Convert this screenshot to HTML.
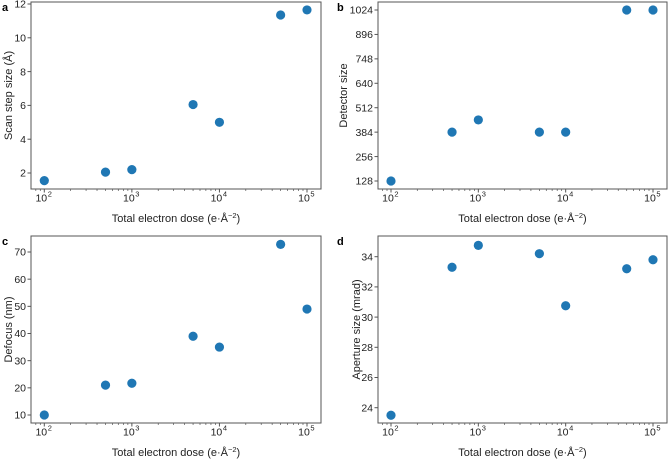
<!DOCTYPE html>
<html><head><meta charset="utf-8"><style>
html,body{margin:0;padding:0;background:#fff;}
svg{display:block;font-family:"Liberation Sans",Arial,sans-serif;}
</style></head><body>
<svg id="s" width="669" height="460" viewBox="0 0 669 460"></svg>
<script>
const doses = [100, 500, 1000, 5000, 10000, 50000, 100000];
const scanStep = [1.55, 2.05, 2.2, 6.05, 5.0, 11.35, 11.65];
const detectorSize = [128, 384, 448, 384, 384, 1024, 1024];
const defocus = [10, 21, 21.7, 39, 35, 72.8, 49];
const aperture = [23.5, 33.3, 34.75, 34.2, 30.75, 33.2, 33.8];
const ticksA = [2, 4, 6, 8, 10, 12];
const ticksB = [128, 256, 384, 512, 640, 768, 896, 1024];
const tickLabelsB = ["128", "256", "384", "512", "640", "748", "896", "1024"];
const ticksC = [10, 20, 30, 40, 50, 60, 70];
const ticksD = [24, 26, 28, 30, 32, 34];
const xMajor = [2, 3, 4, 5];

const NS = "http://www.w3.org/2000/svg";
const svg = document.getElementById("s");
function mk(tag, attrs, parent) {
  const e = document.createElementNS(NS, tag);
  for (const k in attrs) e.setAttribute(k, attrs[k]);
  (parent || svg).appendChild(e);
  return e;
}

const panels = [
  {id:"a", L:31, R:321, T:2, B:189, x0:44.3, x1:307, v0:2, p0:173, v1:12, p1:4, data:scanStep, ticks:ticksA, labels:null, title:"Scan step size (Å)", ylx:9, lx:2},
  {id:"b", L:378, R:667, T:2, B:189, x0:391, x1:653, v0:128, p0:181, v1:1024, p1:10, data:detectorSize, ticks:ticksB, labels:tickLabelsB, title:"Detector size", ylx:344, lx:337},
  {id:"c", L:31, R:321, T:236, B:423, x0:44.3, x1:307, v0:10, p0:415, v1:70, p1:252, data:defocus, ticks:ticksC, labels:null, title:"Defocus (nm)", ylx:9, lx:2},
  {id:"d", L:378, R:667, T:236, B:423, x0:391, x1:653, v0:24, p0:407.7, v1:34, p1:256.7, data:aperture, ticks:ticksD, labels:null, title:"Aperture size (mrad)", ylx:357, lx:337}
];

panels.forEach(p => {
  const g = mk("g", {});
  
  
  const xs = v => p.x0 + (Math.log10(v) - 2) / 3 * (p.x1 - p.x0);
  const ys = v => p.p0 + (v - p.v0) / (p.v1 - p.v0) * (p.p1 - p.p0);
  const fr = mk("rect", {x:p.L, y:p.T, width:p.R - p.L, height:p.B - p.T, fill:"none", stroke:"#555", "stroke-width":1}, g);
  
  
  const lt = mk("text", {x:p.lx, y:p.T + 9, "font-size":11, "font-weight":"bold", fill:"#000"}, g);
  lt.textContent = p.id;
  
  
  xMajor.forEach(e => {
    const x = xs(Math.pow(10, e));
    if (x < p.L || x > p.R) return;
    mk("line", {x1:x, x2:x, y1:p.B, y2:p.B + 3.5, stroke:"#555"}, g);
    const t = mk("text", {x:x - 3, y:p.B + 12.5, "font-size":10.5, "text-anchor":"middle", fill:"#222"}, g);
    t.textContent = "10";
    
    
    const sup = mk("text", {x:x + 5.5, y:p.B + 7.5, "font-size":7.5, "text-anchor":"middle", fill:"#222"}, g);
    sup.textContent = String(e);
  });
  for (let e = 1; e <= 5; e++) for (let m = 2; m <= 9; m++) {
    const x = xs(m * Math.pow(10, e));
    if (x < p.L || x > p.R) continue;
    mk("line", {x1:x, x2:x, y1:p.B, y2:p.B + 2, stroke:"#555", "stroke-width":0.7}, g);
  }
  p.ticks.forEach((v, i) => {
    const y = ys(v);
    mk("line", {x1:p.L - 3.5, x2:p.L, y1:y, y2:y, stroke:"#555"}, g);
    const t = mk("text", {x:p.L - 5, y:y + 3.7, "font-size":10.5, "text-anchor":"end", fill:"#222"}, g);
    t.textContent = p.labels ? p.labels[i] : String(v);
    
    
  });
  const xt = mk("text", {x:(p.L + p.R) / 2, y:p.B + 33, "font-size":11, "text-anchor":"middle", fill:"#222"}, g);
  xt.innerHTML = 'Total electron dose (e·Å<tspan dy="-4" font-size="7.5">−2</tspan><tspan dy="4">)</tspan>';
  
  
  const yc = (p.T + p.B) / 2;
  const yt = mk("text", {x:p.ylx, y:yc, "font-size":11, "text-anchor":"middle", fill:"#222", transform:`rotate(-90 ${p.ylx} ${yc})`, "dominant-baseline":"middle"}, g);
  yt.textContent = p.title;
  
  
  p.data.forEach((v, i) => {
    const c = mk("circle", {cx:xs(doses[i]), cy:ys(v), r:4.6, fill:"#1f77b4"}, g);
    
    
  });
});
</script>
</body></html>
